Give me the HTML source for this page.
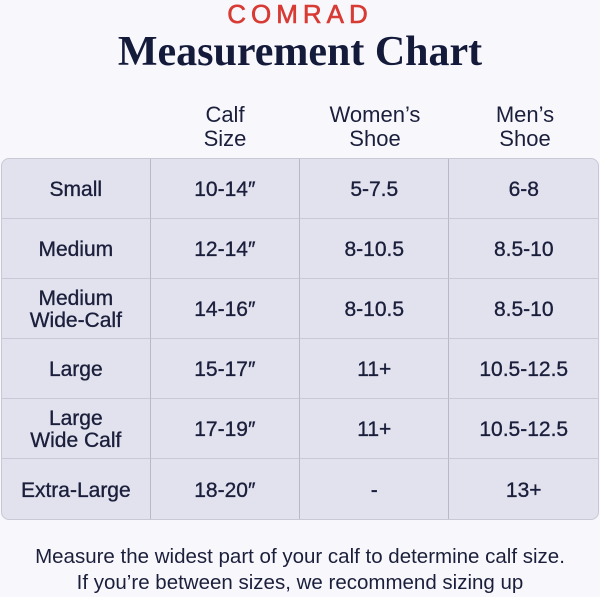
<!DOCTYPE html>
<html><head><style>
body{margin:0;width:600px;height:597px;background:#f8f8fc;font-family:"Liberation Sans",sans-serif;color:#1b1f3b;position:relative;overflow:hidden}
.a{position:absolute;white-space:nowrap;text-align:center}
table{position:absolute;left:1px;top:158px;width:598px;border-collapse:separate;border-spacing:0;background:#e2e2ef;border:1px solid #c8c8d6;border-radius:8px;overflow:hidden}
td{height:60px;border-right:1px solid #b8b8c8;border-bottom:1px solid #c8c8d6;text-align:center;font-size:21px;line-height:22px;padding:0;padding-top:3px;box-sizing:border-box;-webkit-text-stroke:0.35px #1b1f3b}
td:last-child{border-right:none}
tr:last-child td{border-bottom:none}
</style></head><body>
<div class="a" style="left:0;width:600px;top:-1px;font-size:26px;color:#d83a34;letter-spacing:5px;-webkit-text-stroke:0.6px #d83a34">COMRAD</div>
<div class="a" style="left:0;width:600px;top:28px;font-family:'Liberation Serif',serif;font-weight:bold;font-size:42px;color:#141a3a">Measurement Chart</div>
<div class="a" style="left:150px;width:150px;top:103px;font-size:22px;line-height:24px">Calf<br>Size</div>
<div class="a" style="left:300px;width:150px;top:103px;font-size:22px;line-height:24px">Women’s<br>Shoe</div>
<div class="a" style="left:450px;width:150px;top:103px;font-size:22px;line-height:24px">Men’s<br>Shoe</div>
<table>
<col style="width:149px"><col style="width:150px"><col style="width:150px"><col style="width:149px">
<tr><td>Small</td><td>10-14″</td><td>5-7.5</td><td>6-8</td></tr>
<tr><td>Medium</td><td>12-14″</td><td>8-10.5</td><td>8.5-10</td></tr>
<tr><td>Medium<br>Wide-Calf</td><td>14-16″</td><td>8-10.5</td><td>8.5-10</td></tr>
<tr><td>Large</td><td>15-17″</td><td>11+</td><td>10.5-12.5</td></tr>
<tr><td>Large<br>Wide Calf</td><td>17-19″</td><td>11+</td><td>10.5-12.5</td></tr>
<tr><td>Extra-Large</td><td>18-20″</td><td>-</td><td>13+</td></tr>
</table>
<div class="a" style="left:0;width:600px;top:544px;font-size:20.5px;line-height:26px">Measure the widest part of your calf to determine calf size.<br>If you’re between sizes, we recommend sizing up</div>
</body></html>
